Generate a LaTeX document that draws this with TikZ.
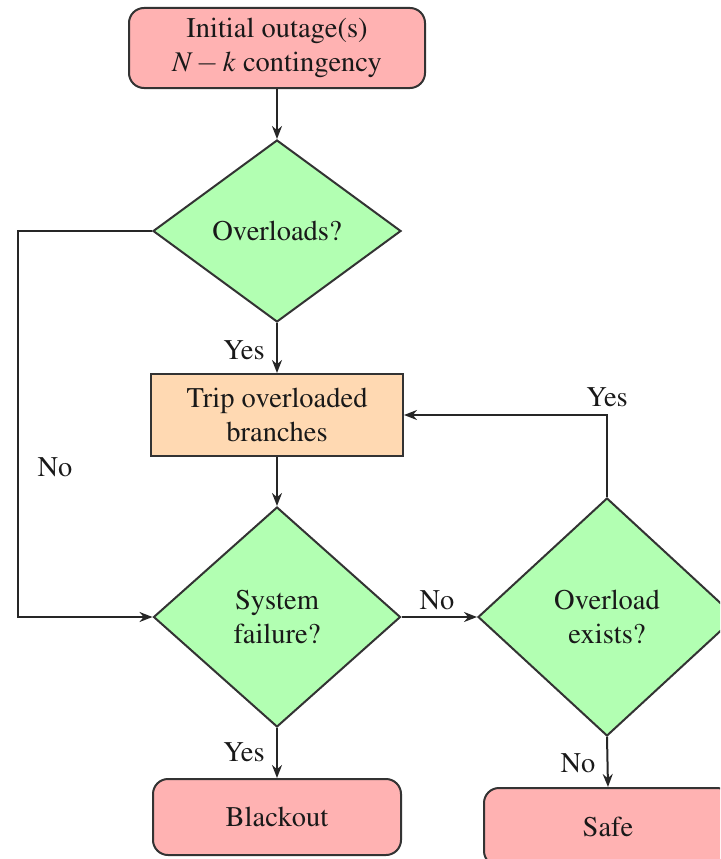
\documentclass[tikz,border=0pt]{standalone}
\usepackage[T1]{fontenc}
\usepackage{mathptmx}
\usetikzlibrary{shapes.geometric,arrows.meta,positioning}
\begin{document}
\begin{tikzpicture}[x=1pt,y=-1pt,
  font=\fontsize{28.5}{34.5}\selectfont,
  line width=2pt,
  every node/.style={text=black!90},
  termbox/.style={draw=black!80, fill=red!30, rounded corners=15pt, align=center, inner sep=0pt},
  actbox/.style={draw=black!80, fill=orange!30, align=center, inner sep=0pt},
  decide/.style={draw=black!80, fill=green!30, diamond, align=center, inner sep=0pt},
  conn/.style={draw=black!85, -{Stealth[length=13pt,width=10pt]}},
  lbl/.style={inner sep=2pt}
]
\clip (0,0) rectangle (720,859);
\useasboundingbox (0,0) rectangle (720,859);

\node[termbox, minimum width=296pt, minimum height=80pt] (init) at (277,48) {Initial outage(s)\\$N-k$ contingency};
\node[decide, minimum width=248pt, minimum height=182pt] (d1) at (277,231) {Overloads?};
\node[actbox, minimum width=252pt, minimum height=82pt] (trip) at (277,415) {Trip overloaded\\branches};
\node[decide, minimum width=247pt, minimum height=220pt] (d2) at (277,617) {System\\failure?};
\node[decide, minimum width=258pt, minimum height=238pt] (d3) at (607,617) {Overload\\exists?};
\node[termbox, minimum width=248pt, minimum height=76pt] (black) at (277,817) {Blackout};
\node[termbox, minimum width=248pt, minimum height=78pt] (safe) at (608,827) {Safe};

\coordinate (lt) at (18,231);
\coordinate (lb) at (18,617);

\draw[conn] (init.south) -- (d1.north);
\draw[conn] (d1.south) -- (trip.north);
\draw[conn] (trip.south) -- (d2.north);
\draw[conn] (d2.south) -- (black.north);
\draw[conn] (d2.east) -- (d3.west);
\draw[conn] (d3.south) -- (safe.north);
\draw[conn] (d3.north) -- (d3.north |- trip.east) -- (trip.east);
\draw[conn] (d1.west) -- (lt) -- (lb) -- (d2.west);

\node[lbl] (ly1) at (244,350) {Yes};
\node[lbl] (ly2) at (244,752) {Yes};
\node[lbl] (ln1) at (437,600) {No};
\node[lbl] (ln2) at (578,763) {No};
\node[lbl] (ly3) at (607,397) {Yes};
\node[lbl] (ln3) at (55,467) {No};
\end{tikzpicture}
\end{document}
